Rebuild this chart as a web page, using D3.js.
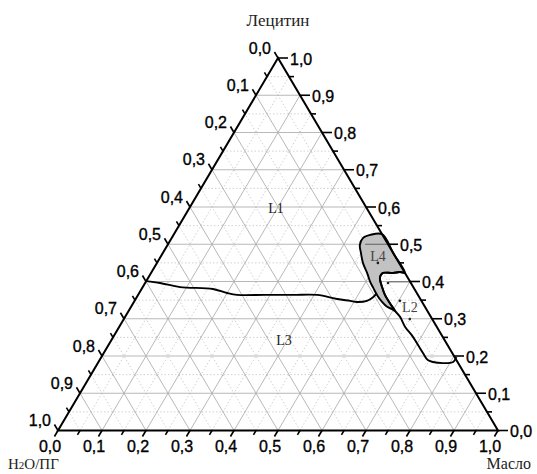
<!DOCTYPE html>
<html><head><meta charset="utf-8">
<script src="https://cdn.jsdelivr.net/npm/d3@7"></script>
<style>body{margin:0;background:#fff}svg{display:block}</style>
</head><body>
<svg id="c" width="537" height="474"></svg>
<script>
// ---- data (ternary: [Лецитин, Масло]; H2O/ПГ = 1 - both) ----
const axisTitles = {top: "Лецитин", left: "H2O/ПГ", right: "Масло"};
const tickValues = [0,0.1,0.2,0.3,0.4,0.5,0.6,0.7,0.8,0.9,1.0];
const minorValues = [0.05,0.15,0.25,0.35,0.45,0.55,0.65,0.75,0.85,0.95];
// L1 / L3 boundary
const boundaryL1L3 = [[0.401,0.0],[0.396,0.034],[0.385,0.085],[0.380,0.162],[0.369,0.200],[0.364,0.225],
  [0.364,0.289],[0.364,0.352],[0.364,0.407],[0.353,0.458],[0.348,0.490],[0.345,0.507],[0.348,0.528],
  [0.358,0.537],[0.369,0.540]];
// L4 (grey) region outline
const regionL4 = [[0.527,0.473],[0.525,0.447],[0.517,0.435],[0.498,0.437],[0.477,0.450],[0.450,0.468],
  [0.423,0.491],[0.399,0.510],[0.383,0.525],[0.364,0.543],[0.345,0.564],[0.332,0.582],[0.326,0.596],
  [0.321,0.6055],[0.342,0.583],[0.364,0.561],[0.385,0.544],[0.409,0.527],[0.417,0.525],[0.423,0.527],
  [0.423,0.550],[0.4255,0.5645],[0.423,0.577],[0.475,0.525]];
// L2 region boundary
const boundaryL2 = [[0.423,0.577],[0.4255,0.5645],[0.423,0.550],[0.423,0.527],[0.417,0.525],[0.409,0.527],
  [0.385,0.544],[0.364,0.561],[0.342,0.583],[0.321,0.6055],[0.305,0.625],[0.278,0.650],[0.256,0.676],
  [0.235,0.698],[0.208,0.7255],[0.189,0.746],[0.184,0.760],[0.181,0.784],[0.184,0.806],[0.197,0.807]];
const markerPoints = [[0.450,0.502],[0.396,0.552],[0.348,0.603],[0.299,0.650]];
const dropLines = [[0.5,0.448],[0.399,0.552]];
const regionLabels = [{t:"L1",l:0.597,m:0.197},{t:"L3",l:0.243,m:0.392},{t:"L4",l:0.4685,m:0.493},{t:"L2",l:0.3315,m:0.634}];

// ---- drawing ----
const svg = d3.select("#c");
const x = d3.scaleLinear().domain([0,1]).range([58,498]);
const y = d3.scaleLinear().domain([0,1]).range([430.5,58]);
const P = (l,m) => [x(m + l/2), y(l)];
const fmt = v => d3.format(".1f")(v).replace(".", ",");

// grid
const g = svg.append("g");
function gridLines(vals, cls){
  vals.forEach(v=>{
    if (v<=0 || v>=1) return;
    [[P(v,0),P(v,1-v)],[P(0,v),P(1-v,v)],[P(0,1-v),P(1-v,0)]].forEach(s=>{
      const ln = g.append("line").attr("x1",s[0][0]).attr("y1",s[0][1]).attr("x2",s[1][0]).attr("y2",s[1][1]);
      if (cls==="major") ln.attr("stroke","#b0b0b0").attr("stroke-width",0.9);
      else ln.attr("stroke","#cccccc").attr("stroke-width",0.9).attr("stroke-dasharray","1.5,2");
    });
  });
}
gridLines(minorValues,"minor");
gridLines(tickValues,"major");

const line = d3.line().x(d=>P(d[0],d[1])[0]).y(d=>P(d[0],d[1])[1]);
const smooth = d3.line().x(d=>P(d[0],d[1])[0]).y(d=>P(d[0],d[1])[1]).curve(d3.curveCatmullRom.alpha(0.5));
const smoothClosed = d3.line().x(d=>P(d[0],d[1])[0]).y(d=>P(d[0],d[1])[1]).curve(d3.curveCatmullRomClosed.alpha(0.5));

// L4 region
svg.append("path").attr("d", smoothClosed(regionL4))
  .attr("fill","#c2c2c2").attr("stroke","#000").attr("stroke-width",1.9);

// drop lines
dropLines.forEach(d=>{
  const a=P(d[0],d[1]), b=P(d[0],1-d[0]);
  svg.append("line").attr("x1",a[0]).attr("y1",a[1]).attr("x2",b[0]).attr("y2",b[1]).attr("stroke","#555").attr("stroke-width",0.9);
});

// boundaries
svg.append("path").attr("d", smooth(boundaryL1L3)).attr("fill","none").attr("stroke","#000").attr("stroke-width",1.9);
svg.append("path").attr("d", smooth(boundaryL2)).attr("fill","none").attr("stroke","#000").attr("stroke-width",1.9);

// markers
svg.selectAll("circle.mk").data(markerPoints).enter().append("circle")
  .attr("cx",d=>P(d[0],d[1])[0]).attr("cy",d=>P(d[0],d[1])[1]).attr("r",1.3).attr("fill","#222");

// triangle frame
const A=P(1,0), BL=P(0,0), BR=P(0,1);
svg.append("path").attr("d", line([[1,0],[0,0],[0,1],[1,0]])+"Z").attr("fill","none")
  .attr("stroke","#000").attr("stroke-width",2).attr("stroke-linejoin","miter");

// ticks
function unit(a,b){const dx=b[0]-a[0],dy=b[1]-a[1],L=Math.hypot(dx,dy);return [dx/L,dy/L];}
const dBottom = unit(A,BL);   // down-left
const dLeft = unit(BR,A);     // up-left
const dRight = [1,0];
const tk = svg.append("g").attr("stroke","#000").attr("stroke-width",1.6);
function tick(p,d,len){tk.append("line").attr("x1",p[0]).attr("y1",p[1]).attr("x2",p[0]+d[0]*len).attr("y2",p[1]+d[1]*len);}
tickValues.forEach(v=>{
  tick(P(0,v), dBottom, 7);
  tick(P(1-v,0), dLeft, 7);
  tick(P(v,1-v), dRight, 10);
});
minorValues.forEach(v=>{
  tick(P(0,v), dBottom, 5);
  tick(P(1-v,0), dLeft, 5);
  tick(P(v,1-v), dRight, 5);
});

// tick labels
const tl = svg.append("g").attr("font-family","'Liberation Sans', Arial, sans-serif").attr("font-size",16)
  .attr("fill","#000").attr("stroke","#000").attr("stroke-width",0.35);
tickValues.forEach(v=>{
  const pb=P(0,v);
  tl.append("text").attr("x",pb[0]-8).attr("y",pb[1]+16).attr("dy","0.35em").attr("text-anchor","middle").text(fmt(v));
  const pl=P(1-v,0);
  tl.append("text").attr("x",pl[0]-7).attr("y",pl[1]-10).attr("dy","0.35em").attr("text-anchor","end").text(fmt(v));
  const pr=P(v,1-v);
  tl.append("text").attr("x",pr[0]+12).attr("y",pr[1]+1).attr("dy","0.35em").attr("text-anchor","start").text(fmt(v));
});

// axis titles
const serif = "'Liberation Serif', 'Times New Roman', serif";
svg.append("text").attr("x",A[0]).attr("y",26).attr("text-anchor","middle").attr("font-family",serif)
  .attr("font-size",17).attr("fill","#222").text(axisTitles.top);
const lt = svg.append("text").attr("x",8).attr("y",469).attr("font-family",serif).attr("font-size",15).attr("fill","#222");
lt.append("tspan").text("H");
lt.append("tspan").attr("font-size",11).text("2");
lt.append("tspan").text("O/ПГ");
svg.append("text").attr("x",531).attr("y",469).attr("text-anchor","end").attr("font-family",serif)
  .attr("font-size",16).attr("fill","#222").text(axisTitles.right);

// region labels
svg.selectAll("text.rl").data(regionLabels).enter().append("text")
  .attr("x",d=>P(d.l,d.m)[0]).attr("y",d=>P(d.l,d.m)[1]).attr("dy","0.35em").attr("text-anchor","middle")
  .attr("font-family",serif).attr("font-size",14).attr("fill",d=>d.t==="L1"||d.t==="L3"?"#222":"#444").text(d=>d.t);
</script>
</body></html>
